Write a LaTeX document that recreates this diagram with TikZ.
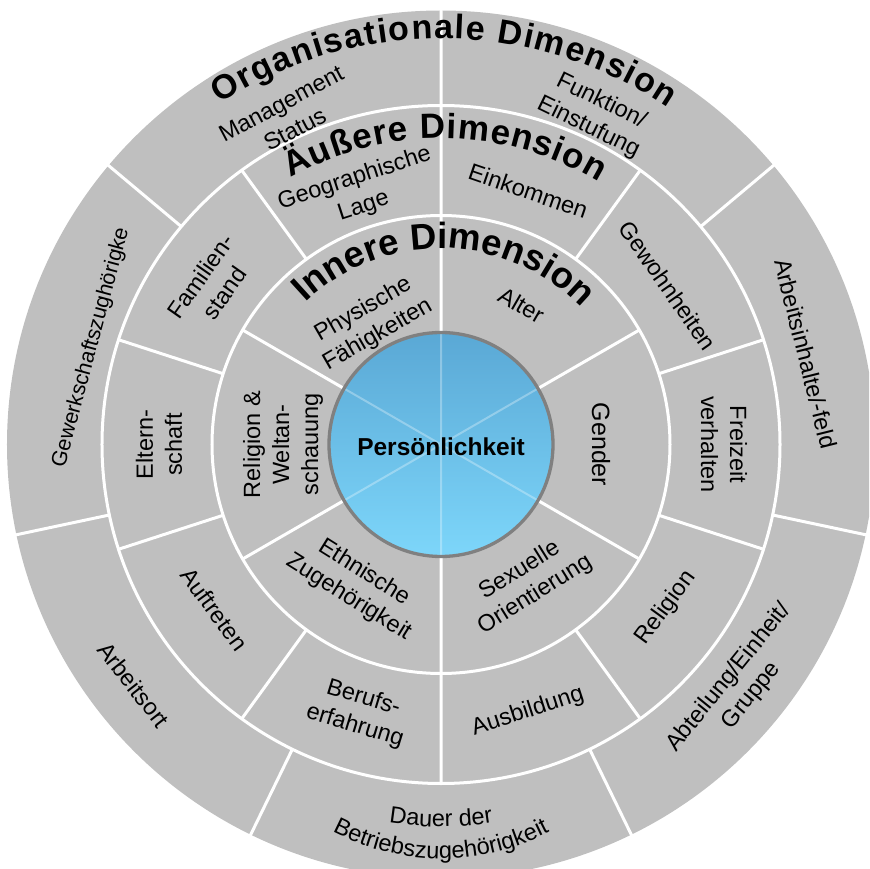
\documentclass[tikz,border=0pt]{standalone}
\usepackage{fontspec}
\setmainfont{Liberation Sans}
\usetikzlibrary{decorations.text}

\definecolor{grigioAnello}{RGB}{191,191,191}
\definecolor{bluAlto}{RGB}{90,168,213}
\definecolor{bluBasso}{RGB}{125,214,250}
\definecolor{grigioBordo}{RGB}{128,128,128}

\newcommand{\fonttesto}{\fontsize{23.5}{29}\selectfont}
\newcommand{\fontinnere}{\fontsize{36.5}{40}\selectfont\bfseries}
\newcommand{\fontesterna}{\fontsize{35}{40}\selectfont\bfseries}
\newcommand{\fontorg}{\fontsize{34}{40}\selectfont\bfseries}

\tikzset{
  separa/.style={white, line width=3},
  testo/.style={font=\fonttesto, align=center, inner sep=0pt},
}

\begin{document}
\begin{tikzpicture}[x=1pt, y=1pt]
    % area del disegno
    \useasboundingbox (-441,-424.5) rectangle (428,444.5);
    \clip (-441,-424.5) rectangle (428,444.5);

    % centro
    \coordinate (C) at (0,0);

    % anelli
    \fill[grigioAnello] (C) circle (434);
    \draw[separa] (C) circle (339);
    \draw[separa] (C) circle (229);

    % separazioni anello esterno
    \draw[separa] (40:339) -- (40:440)
                  (90:339) -- (90:440)
                  (140:339) -- (140:440)
                  (192:339) -- (192:440)
                  (244:339) -- (244:440)
                  (296:339) -- (296:440)
                  (348:339) -- (348:440);

    % separazioni anello medio
    \draw[separa] (90:229) -- (90:339)
                  (54:229) -- (54:339)
                  (18:229) -- (18:339)
                  (-18:229) -- (-18:339)
                  (-54:229) -- (-54:339)
                  (-90:229) -- (-90:339)
                  (-126:229) -- (-126:339)
                  (-162:229) -- (-162:339)
                  (162:229) -- (162:339)
                  (126:229) -- (126:339);

    % separazioni anello interno
    \draw[separa] (C) -- (90:229)
                  (C) -- (30:229)
                  (C) -- (-30:229)
                  (C) -- (-90:229)
                  (C) -- (-150:229)
                  (C) -- (150:229);

    % cerchio centrale
    \shade[top color=bluAlto, bottom color=bluBasso] (C) circle (112);
    \draw[white, opacity=0.3, line width=2] (C) -- (90:112)
                  (C) -- (30:112)
                  (C) -- (-30:112)
                  (C) -- (-90:112)
                  (C) -- (-150:112)
                  (C) -- (150:112);
    \draw[grigioBordo, line width=3.3] (C) circle (112);
    \node[font=\fontsize{24.5}{28}\selectfont\bfseries] (pers) at (0,-2) {Persönlichkeit};

    % titoli delle dimensioni
    \path[decorate, decoration={text along path, text align=center,
          text={|\fontinnere|Innere Dimension}}]
          (139:196) arc[start angle=139, end angle=39, radius=196];
    \path[decorate, decoration={text along path, text align=fit to path,
          text={|\fontesterna|Äußere Dimension}}]
          (119.5:306) arc[start angle=119.5, end angle=59, radius=306];
    \path[decorate, decoration={text along path, text align=fit to path,
          text={|\fontorg|Organisationale Dimension}}]
          (123:406) arc[start angle=123, end angle=56, radius=406];

    % dimensione interna
    \node[testo, rotate=30]  (fis) at (120:141) {Physische\\Fähigkeiten};
    \node[testo, rotate=-30] (alt) at (60:161)  {Alter};
    \node[testo, rotate=-90, font=\fontsize{25}{29}\selectfont] (gen) at (0:160) {Gender};
    \node[testo, rotate=32]  (ori) at (-58:163) {Sexuelle\\Orientierung};
    \node[testo, rotate=-32] (etn) at (-121:164) {Ethnische\\Zugehörigkeit};
    \node[testo, rotate=90]  (rel) at (180:158) {Religion \&\\Weltan-\\schauung};

    % dimensione esterna
    \node[testo, rotate=18]  (geo) at (108:265)  {Geographische\\Lage};
    \node[testo, rotate=-19] (ein) at (71:268)   {Einkommen};
    \node[testo, rotate=-55] (gew) at (35:277)   {Gewohnheiten};
    \node[testo, rotate=-90] (fre) at (0:283)    {Freizeit\\verhalten};
    \node[testo, rotate=54]  (rlg) at (-36:278)  {Religion};
    \node[testo, rotate=18]  (aus) at (-72:281)  {Ausbildung};
    \node[testo, rotate=-17] (ber) at (-107:280) {Berufs-\\erfahrung};
    \node[testo, rotate=-54] (auf) at (-144:280) {Auftreten};
    \node[testo, rotate=90]  (elt) at (180:282)  {Eltern-\\schaft};
    \node[testo, rotate=55]  (fam) at (145:279)  {Familien-\\stand};

    % dimensione organisationale
    \node[testo, rotate=28]  (man) at (115:362) {Management\\Status};
    \node[testo, rotate=-26] (fun) at (65:364)  {Funktion/\\Einstufung};
    \node[testo, rotate=-76] (arb) at (14:376)  {Arbeitsinhalte/-feld};
    \node[testo, rotate=51]  (abt) at (-39:385) {Abteilung/Einheit/\\Gruppe};
    \node[testo, rotate=-52] (ort) at (218:390) {Arbeitsort};
    \node[testo, rotate=75, font=\fontsize{21.5}{26}\selectfont] (gwk) at (164.5:363) {Gewerkschaftszughörigke};

    % dauer, testo ad arco
    \path[decorate, decoration={text along path, text align=center,
          text={|\fonttesto|Dauer der}}]
          (-85.4,-371) arc[start angle=255, end angle=285, radius=330];
    \path[decorate, decoration={text along path, text align=center,
          text={|\fonttesto|Betriebszugehörigkeit}}]
          (-117.5,-382.5) arc[start angle=240, end angle=300, radius=235];
\end{tikzpicture}
\end{document}
